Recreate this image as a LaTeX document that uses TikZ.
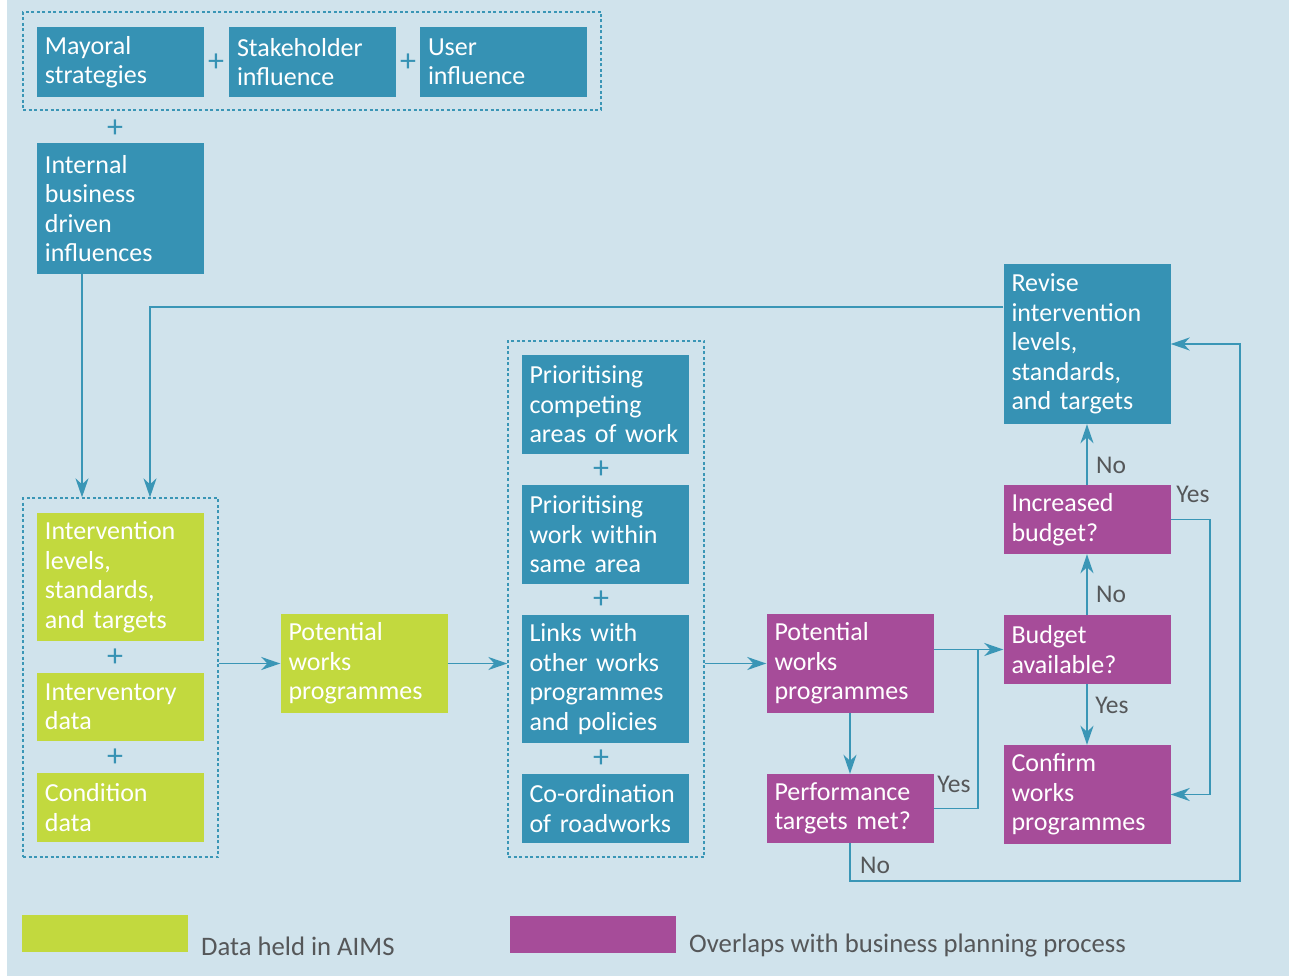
\documentclass[tikz,border=0pt]{standalone}
\usepackage{fontspec}
\setmainfont{Carlito}
\usetikzlibrary{arrows.meta}
\definecolor{bgc}{RGB}{208,227,236}
\definecolor{teal}{RGB}{54,146,180}
\definecolor{lime}{RGB}{194,217,62}
\definecolor{plum}{RGB}{166,76,153}
\definecolor{wire}{RGB}{58,150,182}
\definecolor{lblc}{RGB}{85,87,89}
\tikzset{
  tbox/.style={rectangle, fill=teal, text=white, minimum width=167pt, text width=151pt, inner xsep=8pt, inner ysep=4pt, align=left, font=\fontsize{26}{29.5}\selectfont},
  gbox/.style={tbox, fill=lime},
  pbox/.style={tbox, fill=plum},
  dgroup/.style={draw=wire, line width=1.3pt, dash pattern=on 3pt off 2.5pt, inner sep=0pt},
  conn/.style={draw=wire, line width=1.8pt},
  arr/.style={conn, -{Stealth[length=19pt,width=13pt,inset=6pt]}},
  lbl/.style={text=lblc, font=\fontsize{25.5}{28}\selectfont, inner sep=0pt},
  plus/.style={text=teal, font=\fontsize{32}{32}\selectfont, inner sep=0pt},
  legtxt/.style={text=lblc, font=\fontsize{26.7}{30}\selectfont, inner sep=0pt, anchor=west}
}
\begin{document}
\begin{tikzpicture}[x=1pt,y=-1pt]
\fill[white] (0,0) rectangle (1294,976);
\fill[bgc] (7,0) rectangle (1289,976);
\useasboundingbox (0,0) rectangle (1294,976);
% helper coordinates
\coordinate (x82) at (82,0);
\coordinate (x150) at (150,0);
\coordinate (c307) at (0,307);
\coordinate (c881) at (0,881);
\coordinate (x978) at (978,0);
\coordinate (x1210) at (1210,0);
\coordinate (x1240) at (1240,0);
% groups
\node[dgroup, minimum width=578pt, minimum height=98pt] (gtop) at (312,61) {};
\node[dgroup, minimum width=195pt, minimum height=359pt] (gleft) at (120.5,677.5) {};
\node[dgroup, minimum width=196pt, minimum height=516pt] (gmid) at (606,599) {};
% top boxes
\node[tbox, minimum height=70pt] (may) at (120.5,62) {Mayoral\\strategies};
\node[tbox, minimum height=70pt] (stk) at (312.5,62) {Stakeholder\\influence};
\node[tbox, minimum height=70pt] (usr) at (503.5,62) {User\\influence};
\node[plus] (p1) at (216,63) {+};
\node[plus] (p2) at (408,63) {+};
\node[plus] (p3) at (115,129) {+};
\node[tbox, minimum height=131pt] (int) at (120.5,208.5) {Internal\\business\\driven\\influences};
% left group
\node[gbox, minimum height=128pt] (ilev) at (120.5,577) {Intervention\\levels,\\standards,\\and targets};
\node[plus] (p4) at (115,658) {+};
\node[gbox, minimum height=68pt] (inv) at (120.5,707) {Interventory\\data};
\node[plus] (p5) at (115,758) {+};
\node[gbox, minimum height=69pt] (cond) at (120.5,807.5) {Condition\\data};
\node[gbox, minimum height=99pt] (pwg) at (364,663.5) {Potential\\works\\programmes};
% middle group
\node[tbox, minimum height=99pt] (pc) at (605,404.5) {Prioritising\\competing\\areas of work};
\node[plus] (p6) at (601,470) {+};
\node[tbox, minimum height=99pt] (pw) at (605,534.5) {Prioritising\\work within\\same area};
\node[plus] (p7) at (601,600) {+};
\node[tbox, minimum height=128pt] (lnk) at (605,679) {Links with\\other works\\programmes\\and policies};
\node[plus] (p8) at (601,759) {+};
\node[tbox, minimum height=69pt] (coo) at (605,808.5) {Co-ordination\\of roadworks};
% purple
\node[pbox, minimum height=99pt] (pwp) at (850,663.5) {Potential\\works\\programmes};
\node[pbox, minimum height=69pt] (perf) at (850,808.5) {Performance\\targets met?};
\node[pbox, minimum height=69pt] (bud) at (1087,649.5) {Budget\\available?};
\node[pbox, minimum height=69pt] (inc) at (1087,519.5) {Increased\\budget?};
\node[tbox, minimum height=160pt] (rev) at (1087,344) {Revise\\intervention\\levels,\\standards,\\and targets};
\node[pbox, minimum height=99pt] (conf) at (1087,794.5) {Confirm\\works\\programmes};
% connectors
\draw[arr] (int.south -| x82) -- (gleft.north -| x82);
\draw[arr] (rev.west |- c307) -| (gleft.north -| x150);
\draw[arr] (gleft.east |- pwg.west) -- (pwg.west);
\draw[arr] (pwg.east) -- (gmid.west |- pwg.east);
\draw[arr] (gmid.east |- pwp.west) -- (pwp.west);
\draw[arr] (pwp.south) -- (perf.north);
\draw[arr] (pwp.east |- bud.west) -- (bud.west);
\draw[conn] (perf.east) -| (bud.west -| x978);
\draw[arr] (bud.north) -- (inc.south);
\draw[arr] (inc.north) -- (rev.south);
\draw[arr] (bud.south) -- (conf.north);
\draw[arr] (inc.east) -| (conf.east -| x1210) -- (conf.east);
\draw[arr] (perf.south) -- (perf.south |- c881) -| (rev.east -| x1240) -- (rev.east);
% labels
\node[lbl] (l1) at (954,784) {Yes};
\node[lbl] (l2) at (1111,594) {No};
\node[lbl] (l3) at (1111,465) {No};
\node[lbl] (l4) at (1112,705) {Yes};
\node[lbl] (l5) at (1193,494) {Yes};
\node[lbl] (l6) at (875,865) {No};
% legend
\node[fill=lime, minimum width=166pt, minimum height=37pt, inner sep=0pt] (lg) at (105,933.5) {};
\node[legtxt] (lgt) at (201,946) {Data held in AIMS};
\node[fill=plum, minimum width=166pt, minimum height=37pt, inner sep=0pt] (lp) at (593,934.5) {};
\node[legtxt] (lpt) at (689,946) {Overlaps with business planning process};
\end{tikzpicture}
\end{document}
